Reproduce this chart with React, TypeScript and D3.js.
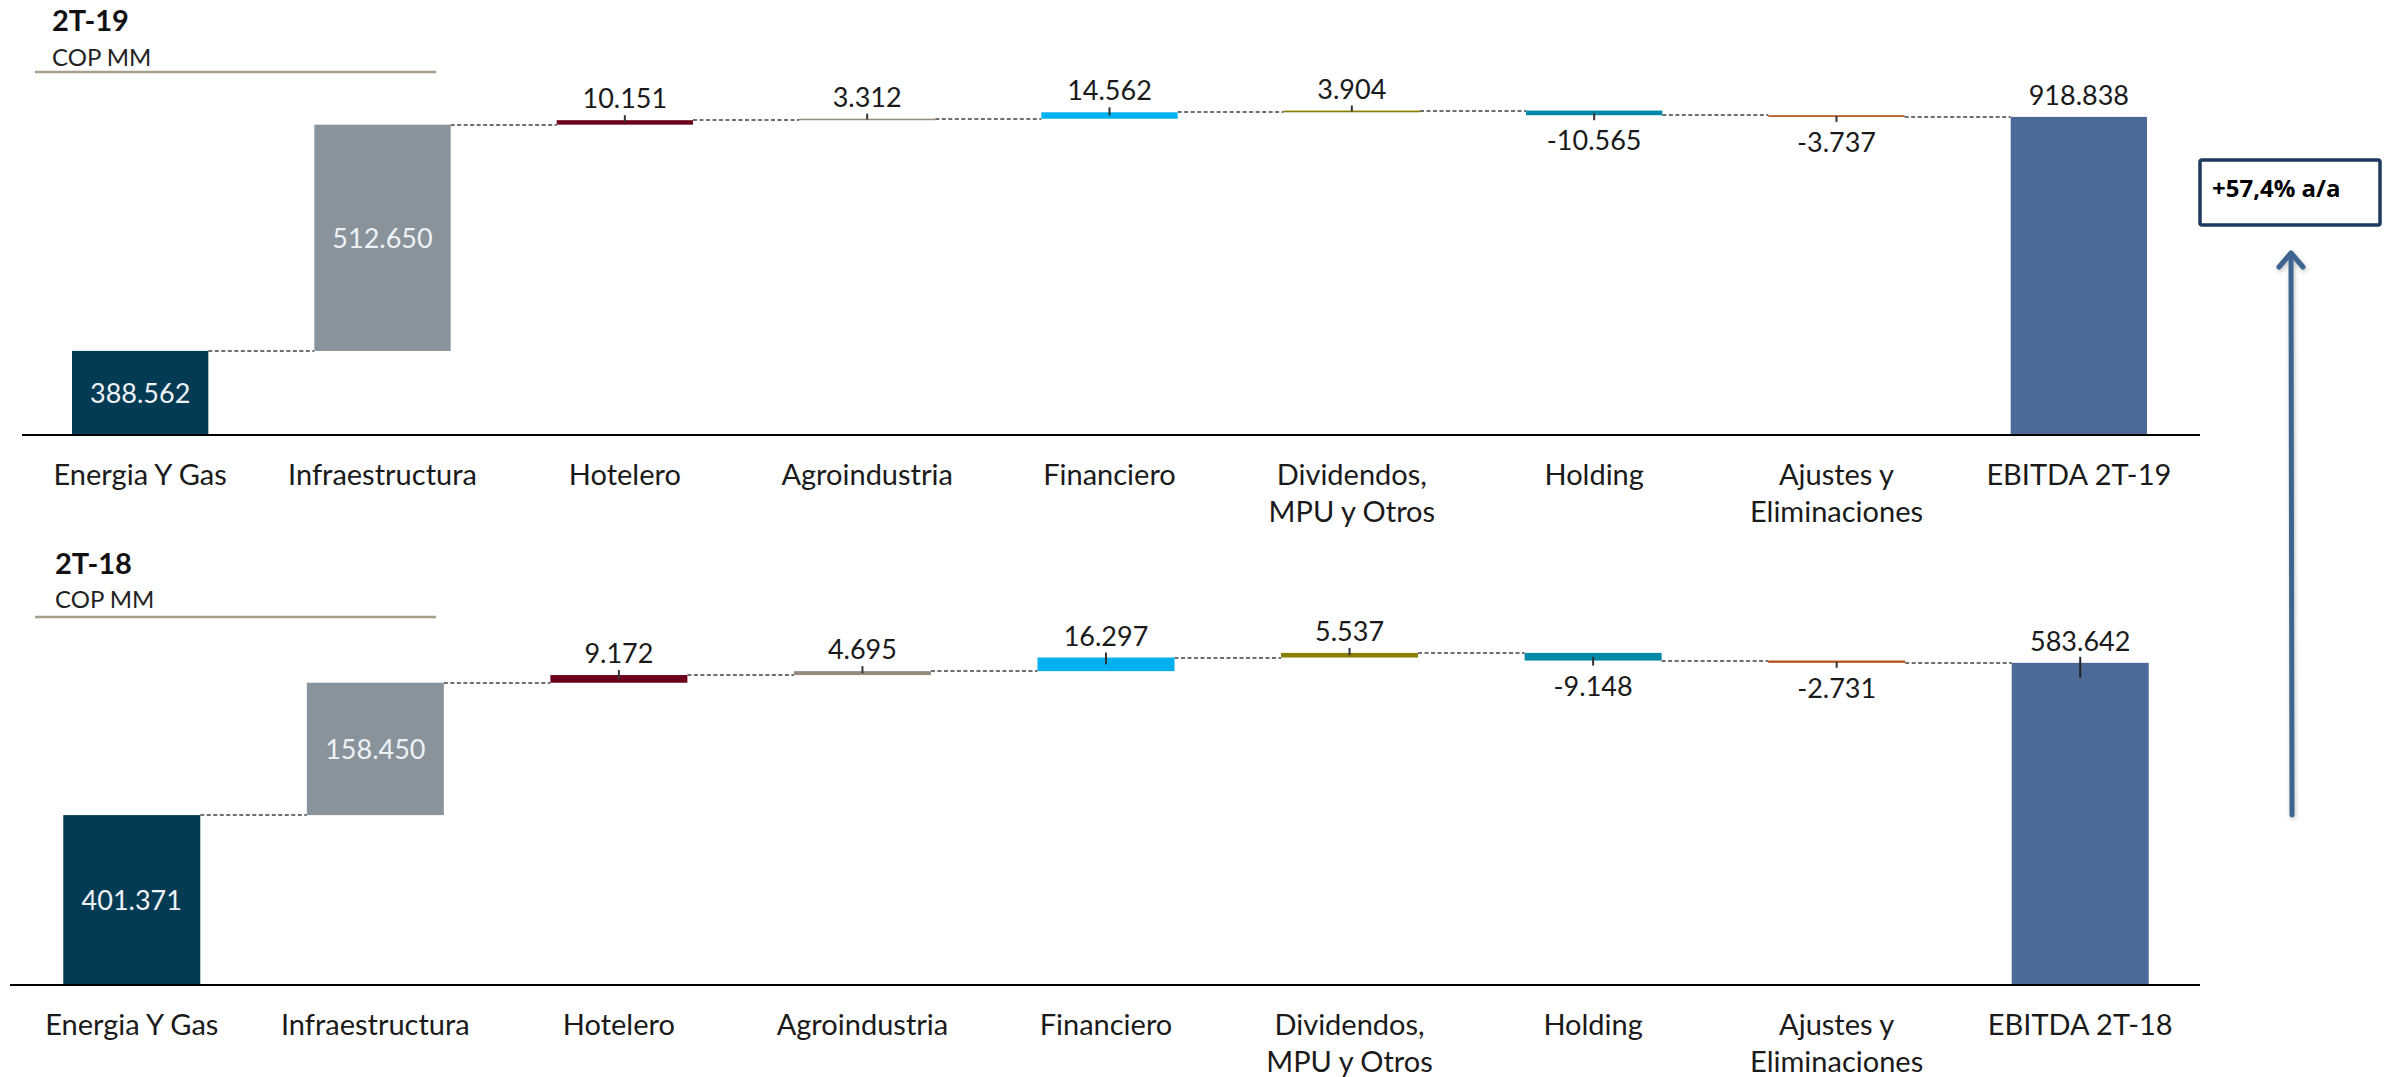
import React from "react";
import * as d3 from "d3";

// ---------- data ----------
const categories19 = [
  "Energia Y Gas",
  "Infraestructura",
  "Hotelero",
  "Agroindustria",
  "Financiero",
  "Dividendos,\nMPU y Otros",
  "Holding",
  "Ajustes y\nEliminaciones",
  "EBITDA 2T-19",
];
const categories18 = [
  "Energia Y Gas",
  "Infraestructura",
  "Hotelero",
  "Agroindustria",
  "Financiero",
  "Dividendos,\nMPU y Otros",
  "Holding",
  "Ajustes y\nEliminaciones",
  "EBITDA 2T-18",
];
const values19 = [388562, 512650, 10151, 3312, 14562, 3904, -10565, -3737, 918838];
const values18 = [401371, 158450, 9172, 4695, 16297, 5537, -9148, -2731, 583642];
const barColors = [
  "#033b55",
  "#88939c",
  "#6c001b",
  "#958b7c",
  "#00b0f0",
  "#8b7f00",
  "#0088a8",
  "#b5501a",
  "#4b6a98",
];
const growthLabel = "+57,4% a/a";
const unitLabel = "COP MM";

const W = 2397;
const H = 1077;
const FONT = "Lato, 'Open Sans', sans-serif";

const fmt = (v: number) => {
  const s = d3.format(",")(Math.abs(v)).replace(/,/g, ".");
  return (v < 0 ? "-" : "") + s;
};

type ChartCfg = {
  title: string;
  cats: string[];
  vals: number[];
  baseY: number;
  xRange: [number, number];
  axisX0: number;
  vMin: number;
  vMax: number;
  pxPerUnit: number;
  titleX: number;
  titleY: number;
  unitY: number;
  ruleY: number;
  totalTick: boolean;
};

function Waterfall({ cfg }: { cfg: ChartCfg }) {
  const { cats, vals, baseY } = cfg;
  const x = d3
    .scaleBand<number>()
    .domain(d3.range(cats.length))
    .range(cfg.xRange)
    .paddingInner(0.4375)
    .paddingOuter(0.21875);
  const y = d3
    .scaleLinear()
    .domain([cfg.vMin, cfg.vMax])
    .range([baseY, baseY - (cfg.vMax - cfg.vMin) / cfg.pxPerUnit])
    .clamp(true);

  const n = vals.length;
  const steps: { start: number; end: number; total: boolean }[] = [];
  let run = 0;
  vals.forEach((v, i) => {
    if (i === 0) {
      steps.push({ start: 0, end: v, total: true });
      run = v;
    } else if (i === n - 1) {
      steps.push({ start: 0, end: v, total: true });
    } else {
      steps.push({ start: run, end: run + v, total: false });
      run += v;
    }
  });

  const bw = x.bandwidth();
  return (
    <g>
      <text x={cfg.titleX} y={cfg.titleY} fontFamily={FONT} fontWeight={700} fontSize={29} fill="#111">
        {cfg.title}
      </text>
      <text x={cfg.titleX} y={cfg.unitY} fontFamily={FONT} fontSize={24} fill="#222">
        {unitLabel}
      </text>
      <line x1={35} x2={436} y1={cfg.ruleY} y2={cfg.ruleY} stroke="#a59f8c" strokeWidth={2.5} />

      {steps.slice(0, n - 1).map((s, i) => {
        const yy = Math.round(y(s.end));
        return (
          <line
            key={"c" + i}
            x1={(x(i) as number) + bw}
            x2={x(i + 1) as number}
            y1={yy}
            y2={yy}
            stroke="#6f6f6f"
            strokeWidth={2}
            strokeDasharray="4 2.5"
          />
        );
      })}

      {steps.map((s, i) => {
        const y0 = y(Math.max(s.start, s.end));
        const y1 = y(Math.min(s.start, s.end));
        return (
          <rect
            key={"b" + i}
            x={x(i) as number}
            y={y0}
            width={bw}
            height={Math.max(1.5, y1 - y0)}
            fill={barColors[i]}
          />
        );
      })}

      <line x1={cfg.axisX0} x2={2200} y1={baseY} y2={baseY} stroke="#000" strokeWidth={2.2} />

      {steps.map((s, i) => {
        const cx = (x(i) as number) + bw / 2;
        const v = vals[i];
        if (i === 0 || i === 1) {
          const mid = (y(s.start) + y(s.end)) / 2;
          return (
            <text
              key={"l" + i}
              x={cx}
              y={mid + 10}
              textAnchor="middle"
              fontFamily={FONT}
              fontSize={27}
              fill="#eef2f5"
            >
              {fmt(v)}
            </text>
          );
        }
        if (s.total) {
          const top = y(s.end);
          return (
            <g key={"l" + i}>
              {cfg.totalTick && (
                <line x1={cx} x2={cx} y1={top - 6} y2={top + 15} stroke="#222" strokeWidth={2} />
              )}
              <text
                x={cx}
                y={top - 12}
                textAnchor="middle"
                fontFamily={FONT}
                fontSize={27}
                fill="#1a1a1a"
              >
                {fmt(v)}
              </text>
            </g>
          );
        }
        const mid = (y(s.start) + y(s.end)) / 2;
        if (v >= 0) {
          const tEnd = y(s.end) - 5;
          return (
            <g key={"l" + i}>
              <line x1={cx} x2={cx} y1={mid} y2={tEnd} stroke="#333" strokeWidth={2} />
              <text
                x={cx}
                y={tEnd - 7}
                textAnchor="middle"
                fontFamily={FONT}
                fontSize={27}
                fill="#1a1a1a"
              >
                {fmt(v)}
              </text>
            </g>
          );
        }
        const tEnd = y(s.end) + 5;
        return (
          <g key={"l" + i}>
            <line x1={cx} x2={cx} y1={mid} y2={tEnd} stroke="#333" strokeWidth={2} />
            <text
              x={cx}
              y={tEnd + 30}
              textAnchor="middle"
              fontFamily={FONT}
              fontSize={27}
              fill="#1a1a1a"
            >
              {fmt(v)}
            </text>
          </g>
        );
      })}

      {cats.map((c, i) => {
        const cx = (x(i) as number) + bw / 2;
        return (
          <text
            key={"k" + i}
            x={cx}
            y={baseY + 50}
            textAnchor="middle"
            fontFamily={FONT}
            fontSize={29}
            fill="#1a1a1a"
          >
            {c.split("\n").map((line, j) => (
              <tspan key={j} x={cx} dy={j === 0 ? 0 : 37}>
                {line}
              </tspan>
            ))}
          </text>
        );
      })}
    </g>
  );
}

const top: ChartCfg = {
  title: "2T-19",
  cats: categories19,
  vals: values19,
  baseY: 435,
  xRange: [19, 2200],
  axisX0: 22,
  vMin: 198000,
  vMax: 1000000,
  pxPerUnit: 2266,
  titleX: 52,
  titleY: 31,
  unitY: 66,
  ruleY: 72,
  totalTick: false,
};
const bottom: ChartCfg = {
  title: "2T-18",
  cats: categories18,
  vals: values18,
  baseY: 985,
  xRange: [10, 2202],
  axisX0: 10,
  vMin: 198000,
  vMax: 620000,
  pxPerUnit: 1197,
  titleX: 55,
  titleY: 574,
  unitY: 608,
  ruleY: 617,
  totalTick: true,
};

export default function App() {
  return (
    <svg
      width={W}
      height={H}
      style={{ position: "absolute", left: 0, top: 0, background: "#fff" }}
    >
      <defs>
        <filter id="sh" x="-50%" y="-10%" width="200%" height="120%">
          <feDropShadow dx="1" dy="2" stdDeviation="2" floodColor="#000" floodOpacity="0.25" />
        </filter>
      </defs>
      <rect x={0} y={0} width={W} height={H} fill="#fff" />
      <Waterfall cfg={top} />
      <Waterfall cfg={bottom} />

      <rect x={2200} y={160} width={180} height={65} rx={2} fill="#fff" stroke="#1f3a60" strokeWidth={3.5} />
      <text x={2212} y={197} fontFamily="'Open Sans', sans-serif" fontWeight={700} fontSize={24} fill="#000">
        {growthLabel}
      </text>

      <g filter="url(#sh)" stroke="#3d6590" strokeWidth={5} fill="none" strokeLinecap="round" strokeLinejoin="round">
        <line x1={2292} x2={2291} y1={815} y2={254} />
        <polyline points="2279,267 2291,253 2303,267" />
      </g>
    </svg>
  );
}
